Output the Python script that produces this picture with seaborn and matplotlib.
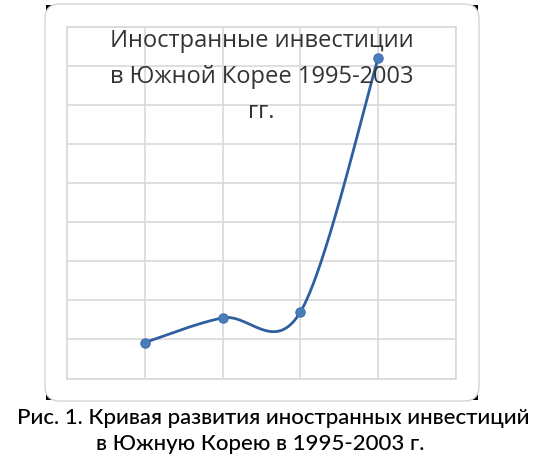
import numpy as np
import pandas as pd
import seaborn as sns
import matplotlib
matplotlib.use('Agg')
import matplotlib.pyplot as plt
from matplotlib.patches import FancyBboxPatch, Rectangle

### data (no axis labels in the original, units are grid steps)
years = ['1995', '1997', '2000', '2003']
positions = [1, 2, 3, 4]
invest = [0.92, 1.55, 1.70, 8.20]

title_lines = ['Иностранные инвестиции', 'в Южной Корее 1995-2003', 'гг.']
caption_lines = ['Рис. 1. Кривая развития иностранных инвестиций',
                 'в Южную Корею в 1995-2003 г.']


def excel_smooth(xs, ys, n=60):
    # bezier pieces like excel's "smoothed line"
    pts = np.column_stack([xs, ys]).astype(float)
    out = []
    for i in range(len(pts) - 1):
        p0 = pts[max(i - 1, 0)]
        p1 = pts[i]
        p2 = pts[i + 1]
        p3 = pts[min(i + 2, len(pts) - 1)]
        c1 = p1 + (p2 - p0) / 6.0
        c2 = p2 - (p3 - p1) / 6.0
        t = np.linspace(0, 1, n)[:, None]
        seg = (1 - t) ** 3 * p1 + 3 * (1 - t) ** 2 * t * c1 + 3 * (1 - t) * t ** 2 * c2 + t ** 3 * p2
        out.append(seg if i == 0 else seg[1:])
    out = np.vstack(out)
    return out[:, 0], out[:, 1]


if __name__ == '__main__':
    sns.set_style('white')
    plt.rcParams['font.family'] = ['Open Sans', 'DejaVu Sans']

    W, H = 554, 462
    fig = plt.figure(figsize=(W / 100, H / 100), dpi=100)

    # chart box: black sheet behind, white rounded card on top (pixel coords, y from top)
    bx0, by0, bx1, by1 = 45, 4, 479, 401
    fig.patches.append(Rectangle(((bx0 + 1) / W, 1 - (by1 - 1) / H), (bx1 - bx0 - 2) / W, (by1 - by0 - 2) / H,
                                 transform=fig.transFigure, facecolor='black', edgecolor='none', zorder=0))
    fig.patches.append(FancyBboxPatch((bx0, H - by1), bx1 - bx0, by1 - by0,
                                      boxstyle='round,pad=0,rounding_size=15',
                                      transform=None, facecolor='white', edgecolor='#d4d4d4',
                                      linewidth=1.0, zorder=1))

    # plot area in pixels: x 67..456, y 26.5..378.5
    ax = fig.add_axes([67 / W, 1 - 378.5 / H, (456 - 67) / W, (378.5 - 26.5) / H])
    ax.set_facecolor('none')
    ax.set_zorder(2)

    frame = pd.DataFrame({'year': years, 'pos': positions, 'invest': invest})
    cx, cy = excel_smooth(frame['pos'], frame['invest'])
    curve = pd.DataFrame({'x': cx, 'y': cy})

    sns.lineplot(data=curve, x='x', y='y', sort=False, estimator=None, ax=ax,
                 color='#2f5f9e', linewidth=2.0, zorder=3)
    sns.scatterplot(data=frame, x='pos', y='invest', ax=ax, color='#4a7ebb',
                    s=45, edgecolor='#3d6fae', linewidth=0.8, zorder=4)

    ax.set_xlim(0, 5)
    ax.set_ylim(0, 9)
    ax.set_xticks(range(0, 6))
    ax.set_yticks(range(0, 10))
    ax.grid(True, color='#d9d9d9', linewidth=1.2)
    ax.tick_params(length=0, labelbottom=False, labelleft=False)
    ax.set_xlabel('')
    ax.set_ylabel('')
    for s in ax.spines.values():
        s.set_visible(True)
        s.set_color('#d9d9d9')
        s.set_linewidth(1.2)

    # title sits inside the plot area, one line at a time
    for line, base in zip(title_lines, [47, 83, 118]):
        fig.text(261.5 / W, 1 - base / H, line, ha='center', va='baseline',
                 fontsize=17, color='#333333', zorder=5)

    # caption under the card
    for line, base, cxp in zip(caption_lines, [424, 450], [273, 260.5]):
        fig.text(cxp / W, 1 - base / H, line, ha='center', va='baseline',
                 fontsize=16, color='black', fontweight='medium', family=['Lato', 'DejaVu Sans'])

    plt.savefig('out.png', dpi=100)
